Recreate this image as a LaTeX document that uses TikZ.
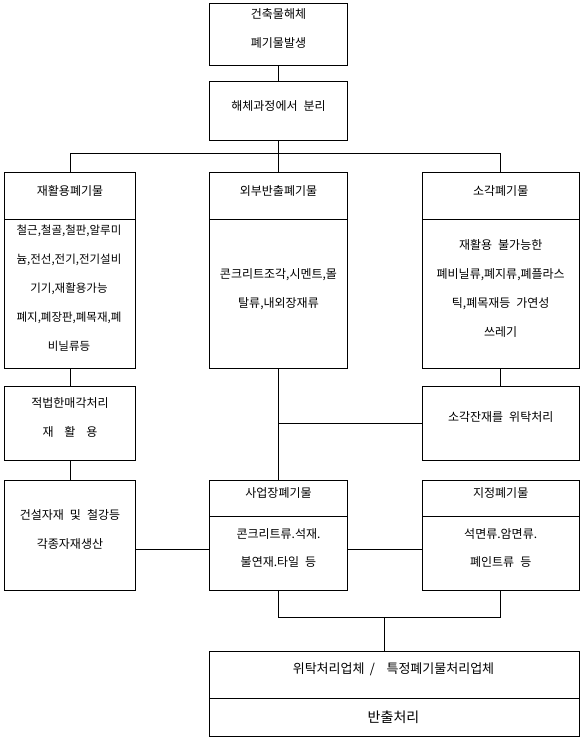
\documentclass[tikz,border=0pt]{standalone}
\usepackage{fontspec}
\setmainfont{Noto Sans CJK KR}
\usetikzlibrary{calc}
\newcommand\wordgap{\spaceskip 0.5em\relax}

\begin{document}
\begin{tikzpicture}[x=1pt, y=-1pt, thick,
  box/.style={draw, rectangle, anchor=north west, inner sep=0pt, outer sep=0pt},
  txt/.style={inner sep=0pt, align=center, font=\fontsize{12}{29}\selectfont\wordgap}]%
  \useasboundingbox (0,0) rectangle (583,740);
  \foreach \n/\x/\y/\w/\h in {gen/209.5/3.5/138/61.5, sep/209.5/81/138/59,
    resale/4.5/386/131/74.3, ashes/422.3/386/156.7/74.3, products/4.5/480/131/110.3} {
    \node[box, minimum width=\w pt, minimum height=\h pt] (\n) at (\x,\y) {};
  }
  \foreach \n/\x/\y/\w/\h/\d in {recyc/4.5/172.3/131/196/47, export/209.5/172.3/138/196/47,
    incin/422.3/172.3/156.7/196/47, site/209.5/480/138/110.3/36.3,
    designated/422.3/480/156.7/110.3/36.3, contractor/209.5/651.3/369.5/84.7/47} {
    \node[box, minimum width=\w pt, minimum height=\h pt] (\n) at (\x,\y) {};
    \draw
    ($(\n.north west)+(0,\d)$)
    --
    ($(\n.north east)+(0,\d)$)
    ;
  }
  \node[txt] (gen-t) at (278.5,28.5) {건축물해체\\폐기물발생};
  \node[txt] (sep-t) at (278.5,106) {해체과정에서 분리};
  \node[txt] (recyc-h) at (70,190.7) {재활용폐기물};
  \node[txt, font=\fontsize{11.5}{29}\selectfont] (recyc-b) at (69,288.4)
    {철근,철골,철판,알루미\\늄,전선,전기,전기설비\\기기,재활용가능\\폐지,폐장판,폐목재,폐\\비닐류등};
  \node[txt] (export-h) at (278.5,190.7) {외부반출폐기물};
  \node[txt] (export-b) at (278.5,289) {콘크리트조각,시멘트,몰\\탈류,내외장재류};
  \node[txt] (incin-h) at (500.7,190.7) {소각폐기물};
  \node[txt] (incin-b) at (500.7,288.4)
    {재활용 불가능한\\폐비닐류,폐지류,폐플라스\\틱,폐목재등 가연성\\쓰레기};
  \node[txt] (resale-t) at (70,417.2) {적법한매각처리\\재\hspace{.9em}활\hspace{.9em}용};
  \node[txt] (ashes-t) at (500.7,417.3) {소각잔재를 위탁처리};
  \node[txt] (products-t) at (70,529.7) {건설자재 및 철강등\\각종자재생산};
  \node[txt] (site-h) at (278.5,493.3) {사업장폐기물};
  \node[txt, font=\fontsize{12}{28}\selectfont\wordgap] (site-b) at (278.5,547.9)
    {콘크리트류.석재.\\불연재.타일 등};
  \node[txt] (designated-h) at (500.7,493.3) {지정폐기물};
  \node[txt, font=\fontsize{12}{28}\selectfont\wordgap] (designated-b) at (500.7,547.9)
    {석면류.암면류.\\폐인트류 등};
  \node[txt, font=\fontsize{13}{16}\selectfont] (contractor-h) at (393.5,669)
    {위탁처리업체\hspace{.4em}/\hspace{.9em}특정폐기물처리업체};
  \node[txt, font=\fontsize{14}{16}\selectfont] (contractor-b) at (393.5,717.7) {반출처리};
  \coordinate (split) at (278.5,153.3);
  \coordinate (link) at (0,549.3);
  \coordinate (merge) at (384.3,617.7);
  \draw (gen) -- (sep);
  \draw (sep) -- (export);
  \draw (recyc.north) |- (split) -| (incin.north);
  \draw (recyc) -- (resale);
  \draw (resale) -- (products);
  \draw (incin) -- (ashes);
  \draw (export) -- (site);
  \draw (ashes.west) -- (ashes.west -| export.south);
  \draw (products.east |- link) -- (site.west |- link);
  \draw (site.east |- link) -- (designated.west |- link);
  \draw (site.south) |- (merge) -| (designated.south);
  \draw (merge) -- (merge |- contractor.north);
\end{tikzpicture}
\end{document}
